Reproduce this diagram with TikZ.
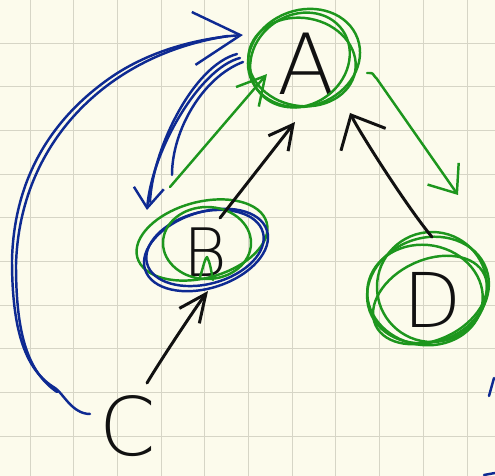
\documentclass[tikz,border=0pt]{standalone}
\usepackage{fontspec}
\newfontfamily\handfont{DejaVuSans-ExtraLight.ttf}
\usetikzlibrary{arrows.meta}
\definecolor{paper}{HTML}{FCFBEC}
\definecolor{gridc}{HTML}{D6D5C6}
\definecolor{ink}{HTML}{111111}
\definecolor{pgreen}{HTML}{1D961D}
\definecolor{pblue}{HTML}{0E2A92}
\begin{document}
\begin{tikzpicture}[x=0.02cm,y=-0.02cm,line cap=round,line join=round,
 letter/.style={inner sep=0pt,outer sep=0pt,text=ink},
 blk/.style={draw=ink,line width=1.7pt},
 grn/.style={draw=pgreen,line width=1.4pt},
 blu/.style={draw=pblue,line width=1.4pt},
 gridline/.style={draw=gridc,line width=0.5pt}]
\fill[paper] (0,0) rectangle (495,476);
\useasboundingbox (0,0) rectangle (495,476);
\foreach \k in {0,...,10} \draw[gridline] ({30+43.7*\k},0) -- ({30+43.7*\k},476);
\foreach \k in {0,...,9} \draw[gridline] (0,{43+43.7*\k}) -- (495,{43+43.7*\k});

\node[letter,font=\handfont\fontsize{48}{48}\selectfont] (A) at (306,64) {A};
\node[letter,font=\handfont\fontsize{38}{38}\selectfont] (B) at (205,252) {B};
\node[letter,font=\handfont\fontsize{46}{46}\selectfont] (C) at (128,426) {C};
\node[letter,font=\handfont\fontsize{43}{43}\selectfont] (D) at (433,300) {D};

% loops around A
\begin{scope}[shift={(A.center)}]
 \draw[grn,rotate around={20:(-2,-6)}] (-2,-6) ellipse [x radius=57,y radius=48];
 \draw[grn,rotate around={-10:(-4,-2)}] (-4,-2) ellipse [x radius=54,y radius=44];
 \draw[grn,rotate around={35:(-6,-4)}] (-6,-4) ellipse [x radius=52,y radius=45];
\end{scope}
% loops around B
\begin{scope}[shift={(B.center)}]
 \draw[grn,rotate around={15:(-3,-12)}] (-3,-12) ellipse [x radius=67,y radius=38];
 \draw[blu,rotate around={18:(1,-2)}] (1,-2) ellipse [x radius=64,y radius=38];
 \draw[blu,rotate around={15:(0,-4)}] (0,-4) ellipse [x radius=60,y radius=36];
 \draw[grn] (2,-9) ellipse [x radius=44,y radius=36];
 \draw[grn] (-5,25) .. controls (-2,16) and (0,6) .. (2,5) .. controls (5,10) and (6,18) .. (8,28);
\end{scope}
% loops around D
\begin{scope}[shift={(D.center)}]
 \draw[grn,rotate around={20:(-5,-10)}] (-5,-10) ellipse [x radius=62,y radius=52];
 \draw[grn,rotate around={-10:(-8,-5)}] (-8,-5) ellipse [x radius=58,y radius=50];
 \draw[grn] (-1,-13) ellipse [x radius=55,y radius=55];
 \draw[grn,rotate around={25:(-3,0)}] (-3,0) ellipse [x radius=60,y radius=40];
\end{scope}

% black connectors
\draw[blk,-{Straight Barb[length=0.55cm,width=0.5cm]}]
 ([shift={(19,-43)}]C.center) .. controls +(15,-25) and +(-12,16) .. ([shift={(3,39)}]B.center);
\draw[blk,-{Straight Barb[length=0.48cm,width=0.5cm]}]
 ([shift={(15,-34)}]B.center) -- ([shift={(-11,58)}]A.center);
\draw[blk,-{Straight Barb[length=0.55cm,width=1cm]}]
 ([shift={(-1,-63)}]D.center) .. controls +(-25,-30) and +(10,20) .. ([shift={(44,49)}]A.center);

% green connectors
\draw[grn,-{Straight Barb[length=0.55cm,width=0.6cm]}]
 ([shift={(-35,-65)}]B.center) -- ([shift={(-39,10)}]A.center);
\draw[grn,-{Straight Barb[length=0.48cm,width=0.76cm]}]
 ([shift={(61,9)}]A.center) .. controls +(8,0) and +(-6,-6) .. ([shift={(71,15)}]A.center) -- ([shift={(25,-105)}]D.center);

% blue connectors
\draw[blu,-{Straight Barb[length=0.4cm,width=0.6cm]}]
 ([shift={(-66,-6)}]A.center) .. controls +(-40,10) and +(5,-60) .. ([shift={(-58,-42)}]B.center);
\draw[blu] ([shift={(-69,-10)}]A.center) .. controls +(-45,12) and +(2,-50) .. ([shift={(-55,-50)}]B.center);
\draw[blu] ([shift={(-63,-2)}]A.center) .. controls +(-40,15) and +(0,-45) .. ([shift={(-33,-77)}]B.center);

\draw[blu,-{Straight Barb[length=0.94cm,width=1.06cm]}]
 ([shift={(-38,-12)}]C.center) .. controls +(-18,0) and +(8,5) .. (55,388)
 .. controls (25,370) and (12,330) .. (12,260)
 .. controls (14,180) and (50,120) .. (110,78)
 .. controls (150,50) and (200,38) .. ([shift={(-63,-29)}]A.center);
\draw[blu] (57,392) .. controls (28,372) and (16,335) .. (16,265)
 .. controls (18,190) and (52,125) .. (112,82) .. controls (150,55) and (190,42) .. (228,36);

% marks at the right edge
\draw[blu] (489,396) -- (494,378);
\draw[blu] (484,475) -- (495,473);
\end{tikzpicture}
\end{document}
